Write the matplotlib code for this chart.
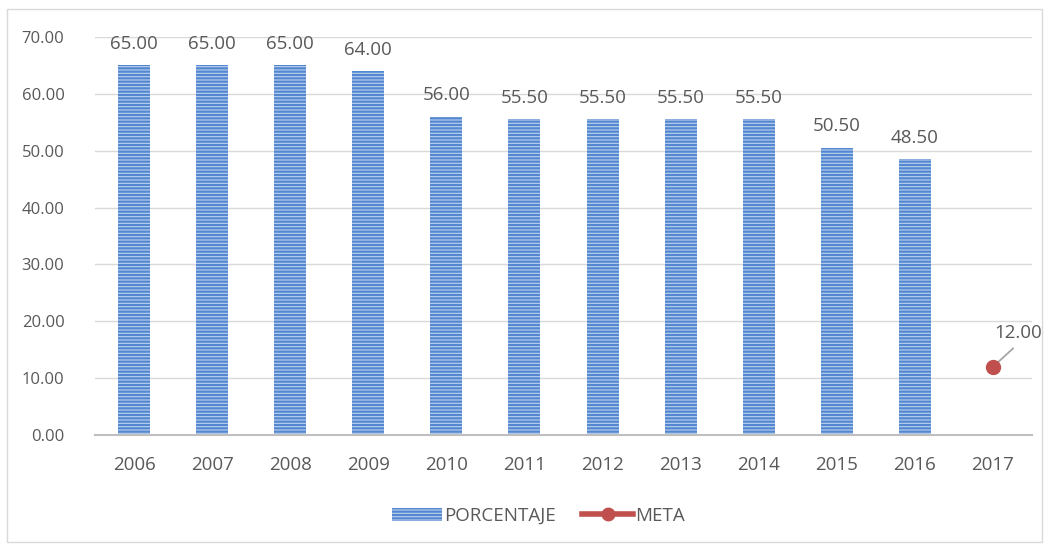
import numpy as np
import matplotlib.pyplot as plt
from matplotlib.patches import Rectangle
from matplotlib.lines import Line2D

plt.rcParams['font.family'] = ['Open Sans', 'DejaVu Sans']
plt.rcParams['hatch.color'] = '#5387D0'
plt.rcParams['hatch.linewidth'] = 1.6

years = ['2006', '2007', '2008', '2009', '2010', '2011', '2012', '2013', '2014', '2015', '2016', '2017']
porcentaje = [65.0, 65.0, 65.0, 64.0, 56.0, 55.5, 55.5, 55.5, 55.5, 50.5, 48.5]
meta_year = '2017'
meta_value = 12.0

txt = '#595959'
fig = plt.figure(figsize=(10.49, 5.44), dpi=100)
ax = fig.add_axes([95/1049, 1-435/544, (1032-95)/1049, (435-37)/544])

x = np.arange(len(years))
ax.bar(x[:len(porcentaje)], porcentaje, width=0.41, color='#BCD1EE',
       edgecolor='#5387D0', linewidth=0, hatch='-----', zorder=3)
for xi, v in zip(x, porcentaje):
    ax.annotate(f'{v:.2f}', (xi, v), xytext=(0, 9), textcoords='offset points',
                ha='center', va='bottom', fontsize=13.5, color=txt)

mx = years.index(meta_year)
ax.plot([mx], [meta_value], 'o', color='#C0504D', markersize=10, zorder=4)
ax.annotate(f'{meta_value:.2f}', (mx, meta_value), xytext=(18, 18), textcoords='offset points',
            ha='center', va='bottom', fontsize=13.5, color=txt,
            arrowprops=dict(arrowstyle='-', color='#A6A6A6', lw=1.3, relpos=(0.55, 0),
                            shrinkA=4, shrinkB=1))

ax.set_xlim(-0.5, len(years) - 0.5)
ax.set_ylim(0, 70)
ax.set_yticks(np.arange(0, 71, 10))
ax.set_yticklabels([f'{t:.2f}' for t in range(0, 71, 10)])
ax.set_xticks(x)
ax.set_xticklabels(years)
ax.tick_params(axis='both', length=0, labelsize=12, colors=txt)
ax.tick_params(axis='x', labelsize=13.5, pad=15)
ax.tick_params(axis='y', pad=22)
ax.grid(axis='y', color='#D9D9D9', lw=1, zorder=0)
for s in ['top', 'right', 'left']:
    ax.spines[s].set_visible(False)
ax.spines['bottom'].set_color('#BFBFBF')
ax.spines['bottom'].set_linewidth(1.5)
ax.spines['bottom'].set_zorder(5)

handles = [Rectangle((0, 0), 1, 1, facecolor='#BCD1EE', edgecolor='#5387D0', linewidth=0, hatch='-----'),
           Line2D([], [], color='#C0504D', lw=4, marker='o', markersize=9)]
fig.legend(handles, ['PORCENTAJE', 'META'], loc='center', bbox_to_anchor=(0.513, 1-516/544),
           ncol=2, frameon=False, fontsize=13.5, labelcolor=txt, handlelength=2.7,
           handletextpad=0.1, columnspacing=1.4)

fig.add_artist(Rectangle((7/1049, 2/544), 1 - 14/1049, 1 - 11/544,
                         transform=fig.transFigure, fill=False, edgecolor='#D9D9D9', lw=1))

fig.savefig('out.png', dpi=100)
